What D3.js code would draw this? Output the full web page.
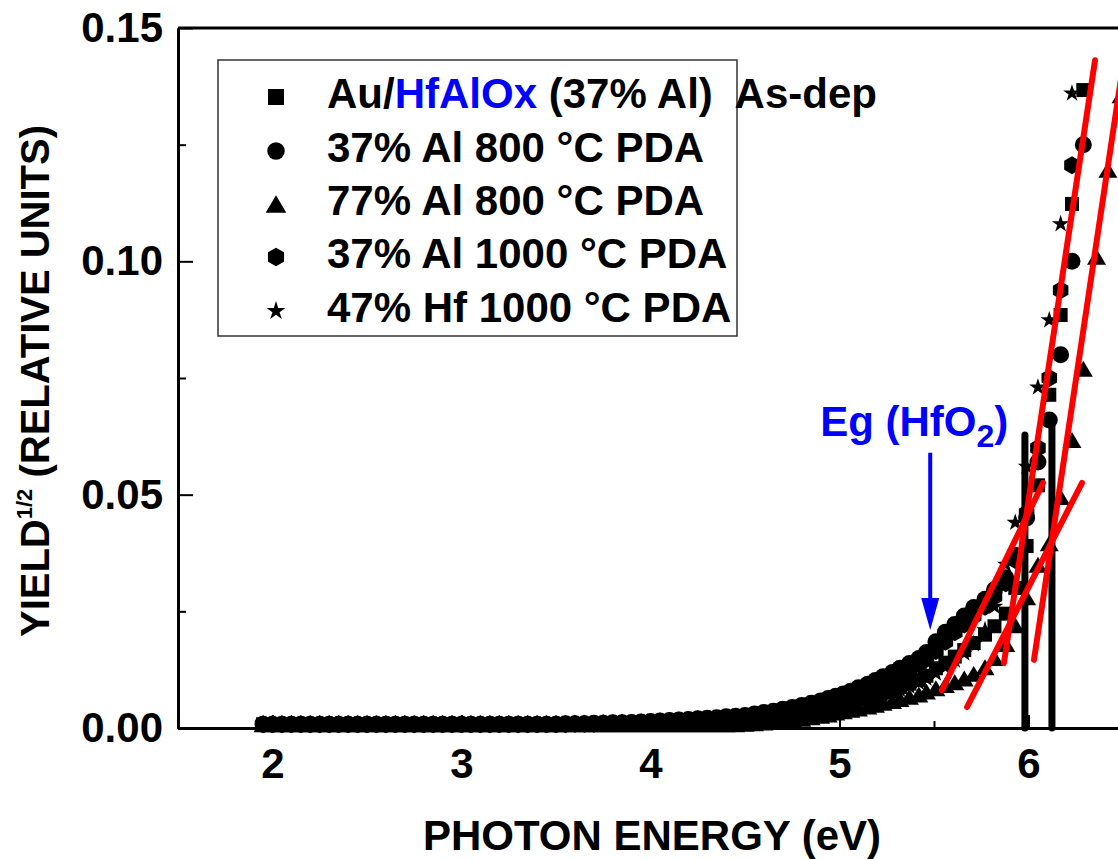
<!DOCTYPE html>
<html><head><meta charset="utf-8">
<script src="https://cdn.jsdelivr.net/npm/d3@7"></script>
<style>
html,body{margin:0;padding:0;background:#fff;overflow:hidden}
svg{display:block}
text{font-family:"Liberation Sans",Arial,sans-serif;font-weight:bold}
</style></head><body>
<svg id="chart" width="1118" height="859"></svg>
<script>
// ---------------- data ----------------
const energies = [
 1.95,2.00,2.05,2.10,2.15,2.20,2.25,2.30,2.35,2.40,2.45,2.50,2.55,2.60,2.65,2.70,2.75,2.80,2.85,2.90,2.95,3.00,3.05,3.10,3.15,3.20,3.25,3.30,3.35,3.40,3.45,
 3.50,3.55,3.60,3.65,3.70,3.75,3.80,3.85,3.90,3.95,4.00,4.05,4.10,4.15,4.20,4.25,4.30,4.35,4.40,4.45,
 4.50,4.55,4.60,4.65,4.70,4.75,4.80,4.85,4.90,4.94,
 4.98,5.02,5.06,5.10,5.15,5.19,5.23,5.28,5.32,5.37,5.42,5.46,5.51,5.56,5.61,5.66,5.71,5.77,5.82,5.88,5.93,5.99,6.05,6.11,6.17,6.23,6.29,6.36,6.42,6.49];

// square: Au/HfAlOx (37% Al) As-dep
const asDep37Al = [
 0.0008,0.0008,0.0008,0.0008,0.0008,0.0008,0.0008,0.0008,0.0008,0.0008,0.0008,0.0008,0.0008,0.0008,0.0008,0.0008,0.0008,0.0008,0.0008,0.0008,0.0008,0.0008,0.0008,0.0008,0.0008,0.0008,0.0008,0.0008,0.0008,0.0008,0.0008,
 0.0008,0.0008,0.0008,0.0008,0.0008,0.0008,0.0009,0.0009,0.0009,0.0010,0.0010,0.0011,0.0011,0.0012,0.0013,0.0014,0.0015,0.0016,0.0017,0.0018,
 0.0020,0.0022,0.0024,0.0026,0.0029,0.0032,0.0035,0.0038,0.0042,0.0045,
 0.0049,0.0053,0.0057,0.0061,0.0066,0.0071,0.0076,0.0082,0.0088,0.0095,0.0103,0.0112,0.0128,0.0140,0.0153,0.0167,0.0182,0.0200,0.0218,0.0245,0.0300,0.0390,0.0520,0.0714,0.0885,0.1123,0.1367];

// circle: 37% Al 800 C PDA
const al37_800 = [
 0.0008,0.0008,0.0008,0.0008,0.0008,0.0008,0.0008,0.0008,0.0008,0.0008,0.0008,0.0008,0.0008,0.0008,0.0008,0.0008,0.0008,0.0008,0.0008,0.0008,0.0008,0.0008,0.0008,0.0008,0.0008,0.0008,0.0008,0.0008,0.0008,0.0008,0.0008,
 0.0008,0.0009,0.0009,0.0009,0.0010,0.0010,0.0011,0.0011,0.0012,0.0013,0.0014,0.0015,0.0016,0.0017,0.0018,0.0020,0.0021,0.0022,0.0024,0.0025,
 0.0027,0.0030,0.0033,0.0036,0.0040,0.0044,0.0048,0.0053,0.0058,0.0063,
 0.0068,0.0073,0.0079,0.0086,0.0094,0.0102,0.0110,0.0119,0.0128,0.0138,0.0149,0.0162,0.0185,0.0205,0.0222,0.0240,0.0258,0.0276,0.0296,0.0322,0.0370,0.0450,0.0570,0.0660,0.0800,0.1000,0.1250];

// triangle: 77% Al 800 C PDA
const al77_800 = [
 0.0008,0.0008,0.0008,0.0008,0.0008,0.0008,0.0008,0.0008,0.0008,0.0008,0.0008,0.0008,0.0008,0.0008,0.0008,0.0008,0.0008,0.0008,0.0008,0.0008,0.0008,0.0008,0.0008,0.0008,0.0008,0.0008,0.0008,0.0008,0.0008,0.0008,0.0008,
 0.0008,0.0008,0.0008,0.0008,0.0008,0.0008,0.0008,0.0008,0.0008,0.0008,0.0008,0.0008,0.0008,0.0008,0.0008,0.0008,0.0008,0.0008,0.0008,0.0008,
 0.0009,0.0010,0.0012,0.0014,0.0016,0.0018,0.0020,0.0023,0.0026,0.0029,
 0.0033,0.0036,0.0039,0.0042,0.0046,0.0050,0.0054,0.0058,0.0062,0.0067,0.0072,0.0078,0.0085,0.0092,0.0098,0.0106,0.0116,0.0130,0.0150,0.0180,0.0220,0.0280,0.0350,0.0396,0.0495,0.0617,0.0770,0.1010,0.1196,0.1356];

// hexagon: 37% Al 1000 C PDA
const al37_1000 = [
 0.0008,0.0008,0.0008,0.0008,0.0008,0.0008,0.0008,0.0008,0.0008,0.0008,0.0008,0.0008,0.0008,0.0008,0.0008,0.0008,0.0008,0.0008,0.0008,0.0008,0.0008,0.0008,0.0008,0.0008,0.0008,0.0008,0.0008,0.0008,0.0008,0.0008,0.0008,
 0.0008,0.0008,0.0009,0.0009,0.0009,0.0010,0.0010,0.0011,0.0011,0.0012,0.0013,0.0014,0.0015,0.0016,0.0017,0.0018,0.0019,0.0020,0.0022,0.0023,
 0.0025,0.0027,0.0030,0.0033,0.0036,0.0040,0.0044,0.0048,0.0052,0.0056,
 0.0060,0.0065,0.0070,0.0076,0.0083,0.0090,0.0098,0.0106,0.0115,0.0125,0.0136,0.0148,0.0165,0.0185,0.0205,0.0222,0.0240,0.0260,0.0282,0.0310,0.0360,0.0460,0.0600,0.0750,0.0938,0.1206];

// star: 47% Hf 1000 C PDA
const hf47_1000 = [
 0.0008,0.0008,0.0008,0.0008,0.0008,0.0008,0.0008,0.0008,0.0008,0.0008,0.0008,0.0008,0.0008,0.0008,0.0008,0.0008,0.0008,0.0008,0.0008,0.0008,0.0008,0.0008,0.0008,0.0008,0.0008,0.0008,0.0008,0.0008,0.0008,0.0008,0.0008,
 0.0008,0.0008,0.0008,0.0008,0.0008,0.0008,0.0008,0.0008,0.0009,0.0009,0.0009,0.0010,0.0010,0.0011,0.0012,0.0012,0.0013,0.0014,0.0015,0.0016,
 0.0017,0.0019,0.0021,0.0023,0.0025,0.0028,0.0031,0.0034,0.0037,0.0040,
 0.0043,0.0047,0.0051,0.0055,0.0060,0.0065,0.0070,0.0076,0.0082,0.0089,0.0097,0.0106,0.0117,0.0130,0.0145,0.0160,0.0180,0.0210,0.0260,0.0350,0.0440,0.0560,0.0730,0.0874,0.1080,0.1360];

const seriesLabels = ["Au/HfAlOx (37% Al)  As-dep", "37% Al 800 °C PDA", "77% Al 800 °C PDA", "37% Al 1000 °C PDA", "47% Hf 1000 °C PDA"];
const seriesShapes = ["square", "circle", "triangle", "hexagon", "star"];

// linear fits (red)
const fitStartE = [5.870, 6.029, 5.542, 5.675];
const fitStartY = [0.0139, 0.0146, 0.0081, 0.0045];
const fitEndE   = [6.352, 6.500, 6.077, 6.283];
const fitEndY   = [0.1431, 0.1420, 0.0525, 0.0525];

// threshold markers (black bars)
const thresholdE = [5.981, 6.124];
const thresholdTop = [0.0628, 0.0647];

// annotation
const egArrowE = 5.48, egArrowTop = 0.059, egArrowTip = 0.021;

const xMajor = [2, 3, 4, 5, 6];
const xMinor = [1.5, 2.5, 3.5, 4.5, 5.5, 6.5];
const yMajor = [0, 0.05, 0.10, 0.15];
const yMinor = [0.025, 0.075, 0.125];

// ---------------- drawing ----------------
const svg = d3.select("#chart");
const L = 178, T = 28, B = 728, R = 1123;
const x = d3.scaleLinear().domain([1.5, 6.5]).range([L, R]);
const y = d3.scaleLinear().domain([0, 0.15]).range([B, T]);

// custom symbols
const symTriangle = { draw(ctx, size) { const w = Math.sqrt(size / 0.42), h = 0.84 * w;
  ctx.moveTo(0, -h / 2); ctx.lineTo(w / 2, h / 2); ctx.lineTo(-w / 2, h / 2); ctx.closePath(); } };
const symHexagon = { draw(ctx, size) { const r = Math.sqrt(size / 2.598);
  for (let k = 0; k < 6; k++) { const a = -Math.PI / 2 + k * Math.PI / 3;
    const px = r * Math.cos(a), py = r * Math.sin(a);
    if (k === 0) ctx.moveTo(px, py); else ctx.lineTo(px, py); } ctx.closePath(); } };
const shapeType = { square: d3.symbolSquare, circle: d3.symbolCircle, triangle: symTriangle, hexagon: symHexagon, star: d3.symbolStar };
const shapeSize = { square: 196, circle: 227, triangle: 152, hexagon: 210, star: 95 };
const legendSize = { square: 256, circle: 240, triangle: 180, hexagon: 225, star: 110 };

const seriesValues = [asDep37Al, al37_800, al77_800, al37_1000, hf47_1000];

// markers
const gData = svg.append("g");
seriesValues.forEach((vals, si) => {
  const shp = seriesShapes[si];
  const pts = vals.map((v, i) => ({ e: energies[i], v }));
  gData.append("g").selectAll("path").data(pts).join("path")
    .attr("transform", d => `translate(${x(d.e)},${y(d.v)})`)
    .attr("d", d3.symbol().type(shapeType[shp]).size(shapeSize[shp]))
    .attr("fill", "#000");
});

// threshold bars
svg.append("g").selectAll("line").data(thresholdE).join("line")
  .attr("x1", d => x(d)).attr("x2", d => x(d))
  .attr("y1", y(0)).attr("y2", (d, i) => y(thresholdTop[i]))
  .attr("stroke", "#000").attr("stroke-width", 7).attr("stroke-linecap", "round");

// fit lines
svg.append("g").selectAll("line").data(fitStartE).join("line")
  .attr("x1", d => x(d)).attr("y1", (d, i) => y(fitStartY[i]))
  .attr("x2", (d, i) => x(fitEndE[i])).attr("y2", (d, i) => y(fitEndY[i]))
  .attr("stroke", "#ff0000").attr("stroke-width", 6).attr("stroke-linecap", "round");

// axes
const gx = svg.append("g").attr("transform", `translate(0,${B})`);
gx.call(d3.axisBottom(x).tickValues(xMinor).tickSize(-7).tickSizeOuter(0).tickFormat(""));
const gx2 = svg.append("g").attr("transform", `translate(0,${B})`);
gx2.call(d3.axisBottom(x).tickValues(xMajor).tickSize(-13).tickSizeOuter(0).tickPadding(20).tickFormat(d3.format("d")));
const gy = svg.append("g").attr("transform", `translate(${L},0)`);
gy.call(d3.axisLeft(y).tickValues(yMinor).tickSize(-8).tickSizeOuter(0).tickFormat(""));
const gy2 = svg.append("g").attr("transform", `translate(${L},0)`);
gy2.call(d3.axisLeft(y).tickValues(yMajor).tickSize(-15).tickSizeOuter(0).tickPadding(15).tickFormat(d3.format(".2f")));
[gx, gx2, gy, gy2].forEach(g => {
  g.select(".domain").attr("stroke-width", 3).attr("stroke", "#000");
  g.selectAll(".tick line").attr("stroke-width", 2).attr("stroke", "#000");
  g.selectAll(".tick text").attr("font-size", 42).attr("font-family", null).attr("fill", "#000");
});
// top and right frame
svg.append("line").attr("x1", L).attr("x2", R).attr("y1", T).attr("y2", T).attr("stroke", "#000").attr("stroke-width", 3);
svg.append("line").attr("x1", R).attr("x2", R).attr("y1", T).attr("y2", B).attr("stroke", "#000").attr("stroke-width", 3);

// axis titles
svg.append("text").attr("x", 652).attr("y", 850).attr("text-anchor", "middle").attr("font-size", 42)
  .text("PHOTON ENERGY (eV)");
const yt = svg.append("text").attr("transform", "translate(49,381) rotate(-90)").attr("text-anchor", "middle").attr("font-size", 40);
yt.append("tspan").text("YIELD");
yt.append("tspan").attr("font-size", 22).attr("dy", -17).text("1/2");
yt.append("tspan").attr("dy", 17).text(" (RELATIVE UNITS)");

// Eg annotation
const ax = x(egArrowE);
svg.append("line").attr("x1", ax).attr("x2", ax).attr("y1", y(egArrowTop)).attr("y2", y(egArrowTip) - 28)
  .attr("stroke", "#0000ff").attr("stroke-width", 4);
svg.append("path").attr("d", `M${ax - 9},${y(egArrowTip) - 32} L${ax + 9},${y(egArrowTip) - 32} L${ax},${y(egArrowTip)} Z`)
  .attr("fill", "#0000ff");
const eg = svg.append("text").attr("x", ax - 110).attr("y", y(egArrowTop) - 17).attr("font-size", 42).attr("fill", "#0000ff");
eg.append("tspan").text("Eg (HfO");
eg.append("tspan").attr("font-size", 32).attr("dy", 11).text("2");
eg.append("tspan").attr("dy", -11).text(")");

// legend
const lg = svg.append("g");
lg.append("rect").attr("x", 218).attr("y", 60).attr("width", 519).attr("height", 276)
  .attr("fill", "#fff").attr("stroke", "#333").attr("stroke-width", 1.5);
const rowBase = [108, 162, 215, 268, 322];
seriesLabels.forEach((lab, i) => {
  const shp = seriesShapes[i];
  lg.append("path").attr("transform", `translate(276,${rowBase[i] - 11})`)
    .attr("d", d3.symbol().type(shapeType[shp]).size(legendSize[shp])()).attr("fill", "#000");
  const t = lg.append("text").attr("x", 327).attr("y", rowBase[i]).attr("font-size", 42).style("white-space", "pre");
  if (i === 0) {
    t.append("tspan").text("Au/");
    t.append("tspan").attr("fill", "#0000ff").text("HfAlOx");
    t.append("tspan").text(" (37% Al)  As-dep");
  } else t.text(lab);
});
</script></body></html>
